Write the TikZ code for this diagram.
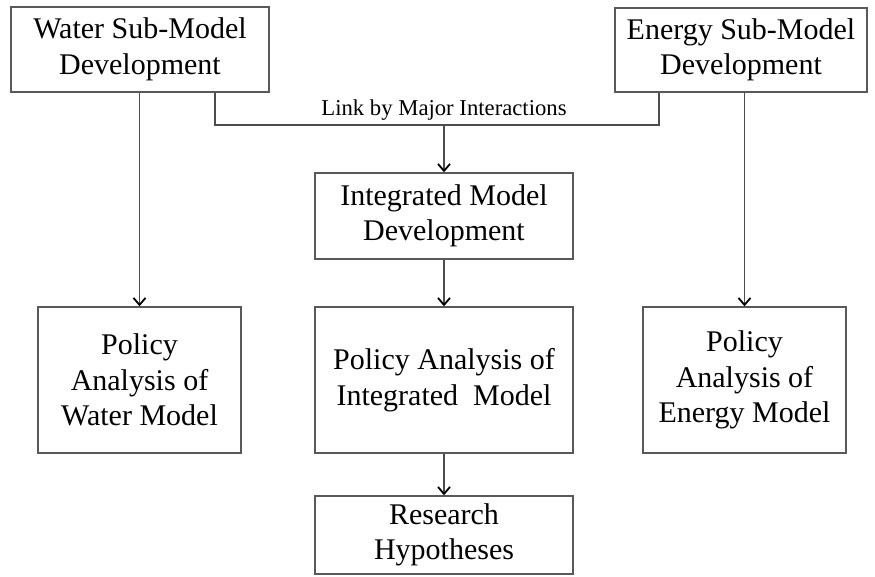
\documentclass[tikz,border=0pt]{standalone}
\usepackage{fontspec}
\setmainfont{Liberation Serif}
\usetikzlibrary{arrows.meta}
\begin{document}
\begin{tikzpicture}[x=1pt,y=-1pt,
  box/.style={draw=black!65,line width=1.4pt,inner sep=0pt,align=center,
    font=\fontsize{30}{35.5}\selectfont},
  conn/.style={draw=black!70,line width=1.6pt},
  arr/.style={conn,-{Straight Barb[length=7pt,width=12pt,line width=1.8pt,color=black]}}]
\useasboundingbox (0,0) rectangle (875,576);
\node[box,minimum width=258pt,minimum height=85pt] (water) at (140,49.5) {Water Sub-Model\\Development};
\node[box,minimum width=252pt,minimum height=84pt] (energy) at (741,50) {Energy Sub-Model\\Development};
\node[box,minimum width=258pt,minimum height=86pt] (integ) at (444,216) {Integrated Model\\Development};
\node[box,minimum width=203pt,minimum height=146pt] (pw) at (139.5,380) {Policy\\Analysis of\\Water Model};
\node[box,minimum width=258pt,minimum height=146pt] (pi) at (444,380) {Policy Analysis of\\Integrated\ \ Model};
\node[box,minimum width=203pt,minimum height=146pt] (pe) at (744.5,380) {Policy\\Analysis of\\Energy Model};
\node[box,minimum width=258pt,minimum height=78pt] (rh) at (444,535) {Research\\Hypotheses};
\coordinate (lw) at (215,125);
\coordinate (le) at (659,125);
\coordinate (lm) at (444,125);
\node[anchor=base,font=\fontsize{22.7}{26}\selectfont] (lbl) at (444,115) {Link by Major Interactions};
\draw[conn] (water.south -| lw) -- (lw) -- (le) -- (energy.south -| le);
\draw[arr] (lm) -- (integ.north);
\draw[arr] (water.south -| pw.north) -- (pw.north);
\draw[arr] (energy.south -| pe.north) -- (pe.north);
\draw[arr] (integ.south) -- (pi.north);
\draw[arr] (pi.south) -- (rh.north);
\end{tikzpicture}
\end{document}
